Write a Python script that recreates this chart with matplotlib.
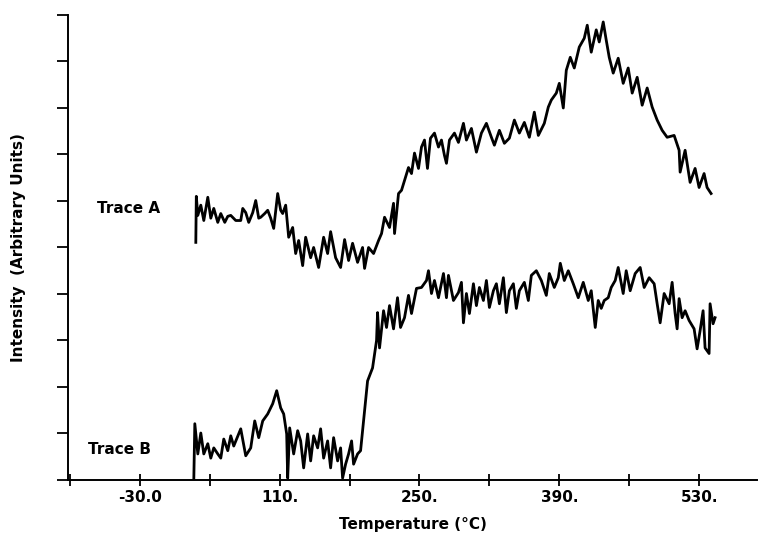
import matplotlib
matplotlib.use("Agg")
import matplotlib.pyplot as plt

# Trace A (upper curve), temperature in deg C and intensity in arbitrary units
temp_a = [26, 26.5, 28, 31, 34, 38, 41, 44, 48, 51, 55, 58, 61, 66, 71, 73, 76, 79, 83, 86,
          89, 91, 95, 98, 101, 104, 108, 111, 113, 116, 119, 123, 126, 129, 133, 136, 141, 144,
          149, 154, 158, 161, 166, 171, 175, 179, 183, 188, 193, 195, 199, 204, 209, 212, 215,
          220, 224, 225, 229, 232, 235, 239, 242, 245, 249, 252, 255, 258, 261, 265, 269, 272,
          275, 277, 280, 285, 289, 294, 297, 302, 307, 312, 317, 322, 325, 330, 335, 340, 345,
          350, 355, 360, 365, 369, 375, 379, 382, 387, 390, 394, 397, 401, 405, 410, 415, 418,
          422, 427, 430, 434, 437, 440, 444, 449, 454, 459, 463, 468, 473, 478, 483, 488, 493,
          498, 505, 510, 511, 516, 521, 526, 530, 535, 538, 542]
int_a = [5.11, 6.10, 5.69, 5.91, 5.58, 6.08, 5.63, 5.84, 5.54, 5.73, 5.54, 5.67, 5.69, 5.58,
         5.58, 5.84, 5.75, 5.54, 5.75, 6.01, 5.63, 5.65, 5.73, 5.80, 5.63, 5.41, 6.16, 5.80,
         5.73, 5.91, 5.22, 5.43, 4.87, 5.15, 4.61, 5.22, 4.78, 5.00, 4.57, 5.22, 4.87, 5.34,
         4.78, 4.57, 5.17, 4.72, 5.09, 4.68, 5.00, 4.55, 5.00, 4.87, 5.15, 5.30, 5.65, 5.43,
         5.95, 5.30, 6.16, 6.23, 6.44, 6.72, 6.59, 7.03, 6.70, 7.16, 7.31, 6.70, 7.35, 7.46,
         7.16, 7.31, 6.98, 6.81, 7.31, 7.46, 7.26, 7.67, 7.31, 7.56, 7.05, 7.46, 7.67, 7.37,
         7.20, 7.52, 7.24, 7.35, 7.74, 7.46, 7.69, 7.37, 7.91, 7.41, 7.67, 8.02, 8.17, 8.32,
         8.53, 8.00, 8.81, 9.09, 8.86, 9.31, 9.50, 9.78, 9.20, 9.68, 9.42, 9.85, 9.46, 9.09,
         8.75, 9.07, 8.53, 8.86, 8.32, 8.66, 8.06, 8.43, 8.02, 7.74, 7.52, 7.37, 7.41, 7.09,
         6.62, 7.09, 6.40, 6.70, 6.29, 6.59, 6.29, 6.16]

# Trace B (lower curve)
temp_b = [24, 25, 28, 31, 34, 38, 41, 44, 48, 51, 54, 58, 61, 64, 71, 76, 81, 85, 89, 93,
          98, 103, 107, 111, 114, 117, 118, 120, 124, 128, 131, 134, 138, 141, 144, 148, 151,
          154, 158, 161, 164, 168, 171, 173, 176, 179, 182, 184, 188, 191, 194, 198, 203, 207,
          208, 210, 214, 217, 220, 224, 228, 231, 235, 239, 242, 247, 252, 257, 259, 262, 265,
          269, 274, 277, 279, 284, 289, 292, 294, 297, 300, 304, 307, 310, 314, 317, 320, 324,
          327, 330, 334, 337, 340, 344, 347, 350, 355, 359, 362, 367, 372, 377, 380, 385, 389,
          391, 395, 399, 404, 409, 414, 419, 422, 426, 429, 432, 435, 439, 442, 446, 449, 454,
          457, 461, 466, 471, 475, 480, 485, 488, 491, 495, 500, 503, 506, 508, 510, 513, 516,
          520, 525, 528, 531, 534, 536, 540, 541, 544, 546]
int_b = [0.02, 1.21, 0.56, 1.01, 0.56, 0.78, 0.47, 0.69, 0.56, 0.47, 0.88, 0.63, 0.95, 0.73,
         1.10, 0.52, 0.69, 1.27, 0.91, 1.27, 1.42, 1.64, 1.92, 1.55, 1.42, 0.99, 0.04, 1.12,
         0.56, 1.06, 0.84, 0.26, 0.99, 0.41, 0.95, 0.69, 1.10, 0.47, 0.84, 0.26, 0.91, 0.41,
         0.69, 0.04, 0.34, 0.56, 0.84, 0.34, 0.56, 0.63, 1.27, 2.13, 2.41, 3.00, 3.60, 2.84,
         3.64, 3.28, 3.75, 3.25, 3.92, 3.28, 3.49, 3.97, 3.58, 4.12, 4.14, 4.29, 4.50, 4.01,
         4.29, 3.92, 4.44, 3.92, 4.40, 3.86, 4.03, 4.25, 3.38, 4.01, 3.58, 4.22, 3.75, 4.14,
         3.86, 4.29, 3.71, 4.07, 4.22, 3.79, 4.35, 3.60, 4.07, 4.22, 3.69, 4.07, 4.25, 3.86,
         4.40, 4.50, 4.29, 3.97, 4.44, 4.14, 4.35, 4.66, 4.29, 4.50, 4.22, 3.92, 4.25, 3.86,
         4.07, 3.28, 3.86, 3.69, 3.86, 3.92, 4.14, 4.29, 4.57, 4.01, 4.50, 4.07, 4.44, 4.57,
         4.14, 4.35, 4.22, 3.79, 3.38, 4.01, 3.79, 4.25, 3.58, 3.25, 3.90, 3.49, 3.64, 3.43,
         3.25, 2.82, 3.21, 3.64, 2.84, 2.72, 3.79, 3.36, 3.49]

xtick_pos = [-100, -30, 40, 110, 180, 250, 320, 390, 460, 530]
xtick_lab = ['', '-30.0', '', '110.', '', '250.', '', '390.', '', '530.']
ytick_pos = list(range(0, 11))

fig = plt.figure(figsize=(7.58, 5.39), dpi=100)
ax = fig.add_axes([0.0897, 0.1095, 0.909, 0.8627])

ax.plot(temp_a, int_a, color='black', lw=2.0)
ax.plot(temp_b, int_b, color='black', lw=2.0)

ax.text(-72.5, 5.84, 'Trace A', fontsize=11, fontweight='bold', va='center', ha='left')
ax.text(-81.5, 0.65, 'Trace B', fontsize=11, fontweight='bold', va='center', ha='left')

ax.set_xlim(-102, 588)
ax.set_ylim(0, 10)
ax.set_xticks(xtick_pos)
ax.set_xticklabels(xtick_lab, fontsize=11, fontweight='bold')
ax.set_yticks(ytick_pos)
ax.set_yticklabels([])
ax.tick_params(axis='x', direction='inout', length=8, width=1.3, pad=3)
ax.tick_params(axis='y', direction='out', length=8, width=1.3)

for side in ['top', 'right']:
    ax.spines[side].set_visible(False)
for side in ['left', 'bottom']:
    ax.spines[side].set_linewidth(1.4)

ax.set_xlabel('Temperature (°C)', fontsize=11, fontweight='bold', labelpad=9)
ax.set_ylabel('Intensity  (Arbitrary Units)', fontsize=11, fontweight='bold', labelpad=19)

fig.savefig('out.png', dpi=100)
